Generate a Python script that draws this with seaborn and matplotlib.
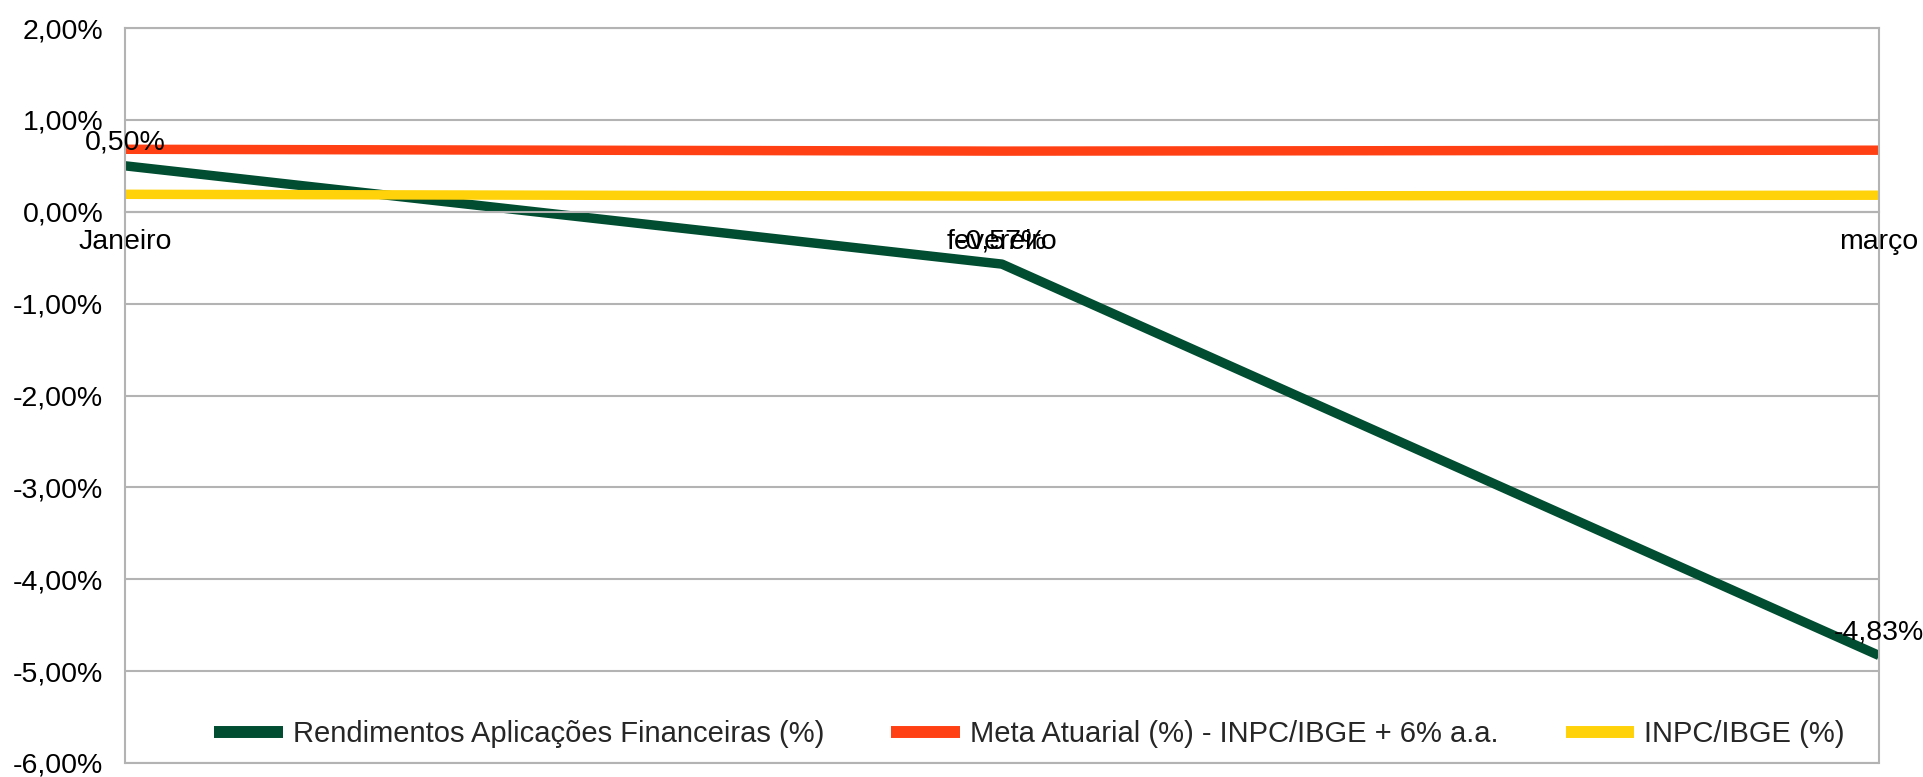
import matplotlib
matplotlib.use("Agg")
import matplotlib.pyplot as plt
from matplotlib.lines import Line2D
from matplotlib.ticker import FuncFormatter
import seaborn as sns
import pandas as pd

# Dados (valores em %)
meses = ["Janeiro", "fevereiro", "março"]
rendimentos = [0.50, -0.57, -4.83]
meta_atuarial = [0.68, 0.66, 0.67]
inpc = [0.19, 0.17, 0.18]

series = ["Rendimentos Aplicações Financeiras (%)",
          "Meta Atuarial (%) - INPC/IBGE + 6% a.a.",
          "INPC/IBGE (%)"]
cores = ["#004d31", "#ff3f14", "#ffd20a"]

df = pd.DataFrame({
    "mes": list(range(len(meses))) * 3,
    "valor": rendimentos + meta_atuarial + inpc,
    "serie": [s for s in series for _ in meses],
})

sns.set_style("white")
plt.rcParams["font.family"] = ["Liberation Sans", "DejaVu Sans"]

cinza = "#b3b3b3"
fig = plt.figure(figsize=(19.23, 7.77), dpi=100)
ax = fig.add_axes([125 / 1923, 1 - 763 / 777, (1879 - 125) / 1923, (763 - 28) / 777])

sns.lineplot(data=df, x="mes", y="valor", hue="serie", hue_order=series,
             palette=cores, linewidth=6.8, sort=False, legend=False, ax=ax,
             solid_capstyle="butt")

ax.set_xlim(0, 2)
ax.set_ylim(-6, 2)
ax.set_yticks(range(-6, 3))
ax.yaxis.set_major_formatter(FuncFormatter(lambda v, p: f"{v:.2f}%".replace(".", ",")))
ax.set_xticks(range(len(meses)))
ax.set_xticklabels(meses)
ax.set_xlabel("")
ax.set_ylabel("")

ax.yaxis.grid(True, color=cinza, linewidth=1.5)
ax.set_axisbelow(True)
for lado in ["left", "right", "top", "bottom"]:
    ax.spines[lado].set_color(cinza)
    ax.spines[lado].set_linewidth(1.5)
ax.spines["bottom"].set_position(("data", 0))
ax.axhline(-6, color=cinza, linewidth=1.5, clip_on=False, zorder=0)

ax.tick_params(axis="both", direction="out", length=8.6, width=1.5, color=cinza,
               labelsize=20.5, labelcolor="black")
ax.tick_params(axis="y", pad=7)
ax.tick_params(axis="x", pad=4)

# Rótulos dos rendimentos
for i, v in enumerate(rendimentos):
    ax.annotate(f"{v:.2f}%".replace(".", ","), (i, v), xytext=(0, 16.5),
                textcoords="offset points", ha="center", va="center",
                fontsize=20.5, color="black")

handles = [Line2D([0], [0], color=c, linewidth=8.6, solid_capstyle="butt") for c in cores]
ax.legend(handles, series, loc="lower center", bbox_to_anchor=(0.5157, 0.0),
          ncol=3, frameon=False, fontsize=21, handlelength=2.35,
          handletextpad=0.35, columnspacing=2.3, borderaxespad=0.1)

fig.savefig("out.png", dpi=100)
